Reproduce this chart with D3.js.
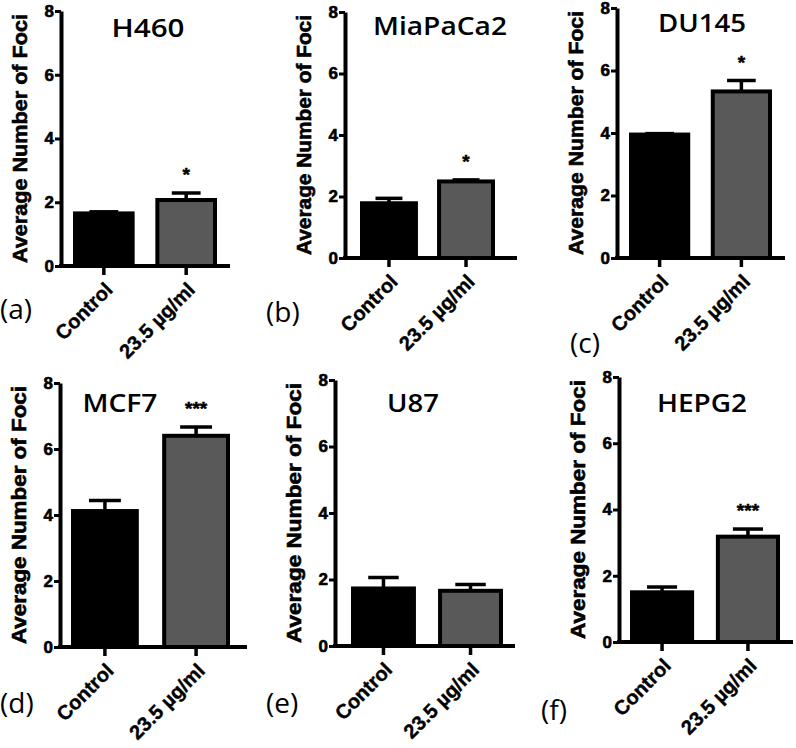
<!DOCTYPE html>
<html>
<head>
<meta charset="utf-8">
<script src="https://cdn.jsdelivr.net/npm/d3@7"></script>
<style>
  html, body { margin: 0; padding: 0; background: #fff; }
  svg { display: block; }
</style>
</head>
<body>
<svg id="chart" width="796" height="748"></svg>
<script>
// ---- data ----
const cellLines = ["H460", "MiaPaCa2", "DU145", "MCF7", "U87", "HEPG2"];
const panelLetters = ["(a)", "(b)", "(c)", "(d)", "(e)", "(f)"];
const categories = ["Control", "23.5 µg/ml"];
const controlMeans = [1.65, 1.78, 3.95, 4.12, 1.73, 1.50];
const controlErrors = [0.05, 0.16, 0.03, 0.32, 0.33, 0.16];
const treatedMeans = [2.07, 2.49, 5.33, 6.40, 1.66, 3.18];
const treatedErrors = [0.22, 0.05, 0.35, 0.27, 0.19, 0.23];
const significance = ["*", "*", "*", "***", "", "***"];
const yTicks = [0, 2, 4, 6, 8];
const yLabel = "Average Number of Foci";

// ---- layout (positions per panel) ----
const layout = [
  {ax: 61,  xEnd: 230, y0: 266, y8: 11,  barL: 73,  barR: 217, tX: 148, tY: 37,  tW: 73,  lX: 0,   lY: 319},
  {ax: 345, xEnd: 517, y0: 258, y8: 12,  barL: 360, barR: 495, tX: 440, tY: 35,  tW: 134, lX: 266, lY: 322},
  {ax: 617, xEnd: 785, y0: 258, y8: 8,   barL: 629, barR: 772, tX: 702, tY: 32,  tW: 88,  lX: 570, lY: 353},
  {ax: 60,  xEnd: 247, y0: 647, y8: 383, barL: 71,  barR: 230, tX: 120, tY: 412, tW: 75,  lX: 0,   lY: 713},
  {ax: 335, xEnd: 515, y0: 646, y8: 380, barL: 351, barR: 503, tX: 413, tY: 412, tW: 52,  lX: 266, lY: 713},
  {ax: 619, xEnd: 793, y0: 642, y8: 377, barL: 630, barR: 780, tX: 702, tY: 412, tW: 90,  lX: 541, lY: 720}
];

const fills = ["#000000", "#595959"];
const svg = d3.select("#chart");
const boldFont = "'Liberation Sans', Arial, sans-serif";
const regFont = "'Open Sans', 'Noto Sans', sans-serif";

cellLines.forEach((name, i) => {
  const L = layout[i];
  const g = svg.append("g");
  const y = d3.scaleLinear().domain([0, 8]).range([L.y0, L.y8]);
  const x = d3.scaleBand().domain(categories).range([L.barL + 2, L.barR - 2]).paddingInner(0.3).paddingOuter(0);

  const means = [controlMeans[i], treatedMeans[i]];
  const errs = [controlErrors[i], treatedErrors[i]];
  const rows = categories.map((c, k) => ({c, m: means[k], e: errs[k], k}));

  // bars
  g.selectAll("rect.bar").data(rows).enter().append("rect")
    .attr("class", "bar")
    .attr("x", d => x(d.c))
    .attr("y", d => y(d.m))
    .attr("width", x.bandwidth())
    .attr("height", d => y(0) - y(d.m))
    .attr("fill", d => fills[d.k])
    .attr("stroke", "#000")
    .attr("stroke-width", 4);

  // error bars (upper only)
  const bw = x.bandwidth();
  g.selectAll("line.err").data(rows).enter().append("line")
    .attr("x1", d => x(d.c) + bw / 2).attr("x2", d => x(d.c) + bw / 2)
    .attr("y1", d => y(d.m)).attr("y2", d => y(d.m + d.e))
    .attr("stroke", "#000").attr("stroke-width", 3.5);
  g.selectAll("line.cap").data(rows).enter().append("line")
    .attr("x1", d => x(d.c) + bw / 4).attr("x2", d => x(d.c) + 3 * bw / 4)
    .attr("y1", d => y(d.m + d.e)).attr("y2", d => y(d.m + d.e))
    .attr("stroke", "#000").attr("stroke-width", 3.5);

  // y axis
  const yAxis = d3.axisLeft(y).tickValues(yTicks).tickSize(6).tickSizeOuter(0).tickPadding(1);
  const ya = g.append("g").attr("transform", `translate(${L.ax},0)`).call(yAxis);
  ya.select(".domain").attr("stroke-width", 4).attr("stroke", "#000");
  ya.selectAll(".tick line").attr("stroke-width", 3).attr("stroke", "#000");
  ya.selectAll(".tick text")
    .attr("font-family", boldFont).attr("font-weight", "bold")
    .attr("font-size", 17).attr("fill", "#000")
    .attr("stroke", "#000").attr("stroke-width", 0.6);

  // x axis line
  g.append("line")
    .attr("x1", L.ax - 2).attr("x2", L.xEnd)
    .attr("y1", y(0)).attr("y2", y(0))
    .attr("stroke", "#000").attr("stroke-width", 4);
  // x ticks
  g.selectAll("line.xt").data(categories).enter().append("line")
    .attr("x1", c => x(c) + bw / 2).attr("x2", c => x(c) + bw / 2)
    .attr("y1", y(0)).attr("y2", y(0) + 9)
    .attr("stroke", "#000").attr("stroke-width", 3.5);
  // x tick labels
  g.selectAll("text.xl").data(categories).enter().append("text")
    .attr("transform", c => `translate(${x(c) + bw / 2 + 10},${y(0) + 25}) rotate(-45)`)
    .attr("text-anchor", "end")
    .attr("font-family", boldFont).attr("font-weight", "bold")
    .attr("font-size", 20).attr("fill", "#000")
    .attr("stroke", "#000").attr("stroke-width", 0.4)
    .text(c => c);

  // y label
  g.append("text")
    .attr("transform", `translate(${L.ax - 34},${(L.y0 + L.y8) / 2}) rotate(-90)`)
    .attr("text-anchor", "middle")
    .attr("font-family", boldFont).attr("font-weight", "bold")
    .attr("font-size", 20).attr("fill", "#000")
    .attr("stroke", "#000").attr("stroke-width", 0.6)
    .attr("textLength", (L.y0 - L.y8) - 6).attr("lengthAdjust", "spacingAndGlyphs")
    .text(yLabel);

  // title
  g.append("text")
    .attr("x", L.tX).attr("y", L.tY)
    .attr("text-anchor", "middle")
    .attr("font-family", regFont).attr("font-weight", 600)
    .attr("font-size", 25).attr("fill", "#000")
    .attr("textLength", L.tW).attr("lengthAdjust", "spacingAndGlyphs")
    .text(name);

  // significance
  if (significance[i]) {
    const tr = rows[1];
    g.append("text")
      .attr("x", x(tr.c) + bw / 2)
      .attr("y", y(tr.m + tr.e) - 12)
      .attr("text-anchor", "middle")
      .attr("font-family", boldFont).attr("font-weight", "bold")
      .attr("font-size", 19).attr("fill", "#000")
      .attr("stroke", "#000").attr("stroke-width", 0.5)
      .text(significance[i]);
  }

  // panel letter
  g.append("text")
    .attr("x", L.lX).attr("y", L.lY)
    .attr("font-family", regFont).attr("font-size", 28).attr("fill", "#000")
    .text(panelLetters[i]);
});
</script>
</body>
</html>
